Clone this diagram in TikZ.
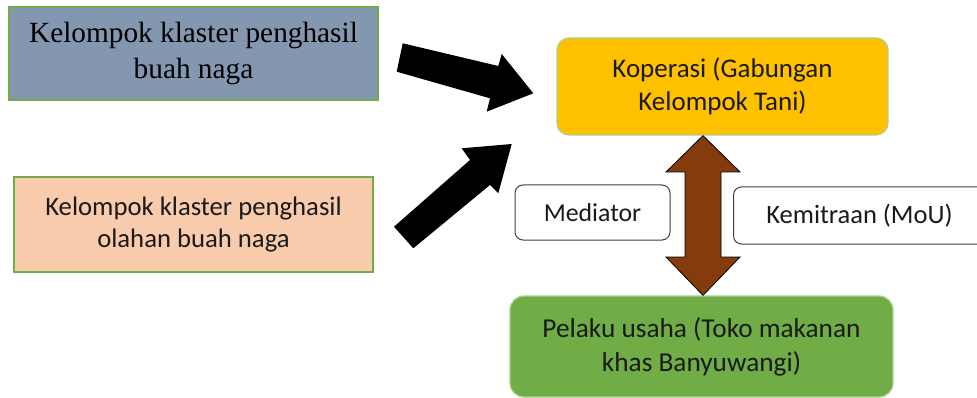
\documentclass[tikz,border=0pt]{standalone}
\usepackage{fontspec}
\setmainfont{Carlito}
\newfontfamily\serifbox{Liberation Serif}
\definecolor{bluegrey}{HTML}{8497B0}
\definecolor{gold}{HTML}{FFC000}
\definecolor{peach}{HTML}{F8CBAD}
\definecolor{leaf}{HTML}{70AD47}
\definecolor{lightleaf}{HTML}{A9D18E}
\definecolor{rust}{HTML}{843C0C}
\definecolor{ink}{HTML}{1A1A1A}
\begin{document}
\begin{tikzpicture}[x=1pt,y=-1pt,
  box/.style={draw=leaf, line width=1.2pt, align=center, inner sep=0pt, text=ink},
  rbox/.style={box, rounded corners=12pt},
  label box/.style={draw=black!75, line width=1pt, fill=white, rounded corners=8pt, align=center, inner sep=0pt, text=ink},
  blockarrow/.style={fill=black},
]
\useasboundingbox (0,0) rectangle (977,398);
\fill[white] (0,0) rectangle (977,398);

\node[box, fill=bluegrey, minimum width=369pt, minimum height=93pt,
  font=\serifbox\fontsize{29.3}{36}\selectfont, text=black] (b1) at (193.5,53.5)
  {Kelompok klaster penghasil\\buah naga};
\node[box, fill=peach, minimum width=359pt, minimum height=95pt,
  font=\fontsize{26.7}{32}\selectfont] (b2) at (193.5,224.5)
  {Kelompok klaster penghasil\\olahan buah naga};
\node[rbox, draw=lightleaf, fill=gold, minimum width=331pt, minimum height=97pt,
  font=\fontsize{27}{33}\selectfont] (kop) at (722.5,86.5)
  {Koperasi (Gabungan\\Kelompok Tani)};
\node[rbox, draw=lightleaf, fill=leaf, rounded corners=14pt, minimum width=383pt, minimum height=101pt,
  font=\fontsize{27.3}{34}\selectfont] (pel) at (701.5,346.5)
  {Pelaku usaha (Toko makanan\\khas Banyuwangi)};
\node[label box, minimum width=155pt, minimum height=55pt, font=\fontsize{25.8}{30}\selectfont] (med) at (592.5,212.5) {Mediator};
\node[label box, minimum width=252pt, minimum height=57pt, anchor=west, font=\fontsize{26.5}{30}\selectfont] (mou) at (733,215.5) {Kemitraan (MoU)};

% black block arrows
\fill[blockarrow] (402.7,43.3) -- (498.3,66) -- (501.7,54) -- (533.3,93.3) -- (486.7,111.7) -- (490,98.3) -- (396.7,71.7) -- cycle;
\fill[blockarrow] (394,226.7) -- (470,160) -- (461.7,148.3) -- (511.7,144) -- (498.3,193.3) -- (490,185) -- (413.3,248.3) -- cycle;

% brown double arrow between Koperasi and Pelaku usaha
\filldraw[fill=rust, draw=black, line width=0.8pt]
  (kop.south -| 703,0) -- (740,172) -- (721,172) -- (721,257) -- (740,257) -- (pel.north -| 703,0)
  -- (666,257) -- (685,257) -- (685,172) -- (666,172) -- cycle;
\end{tikzpicture}
\end{document}
